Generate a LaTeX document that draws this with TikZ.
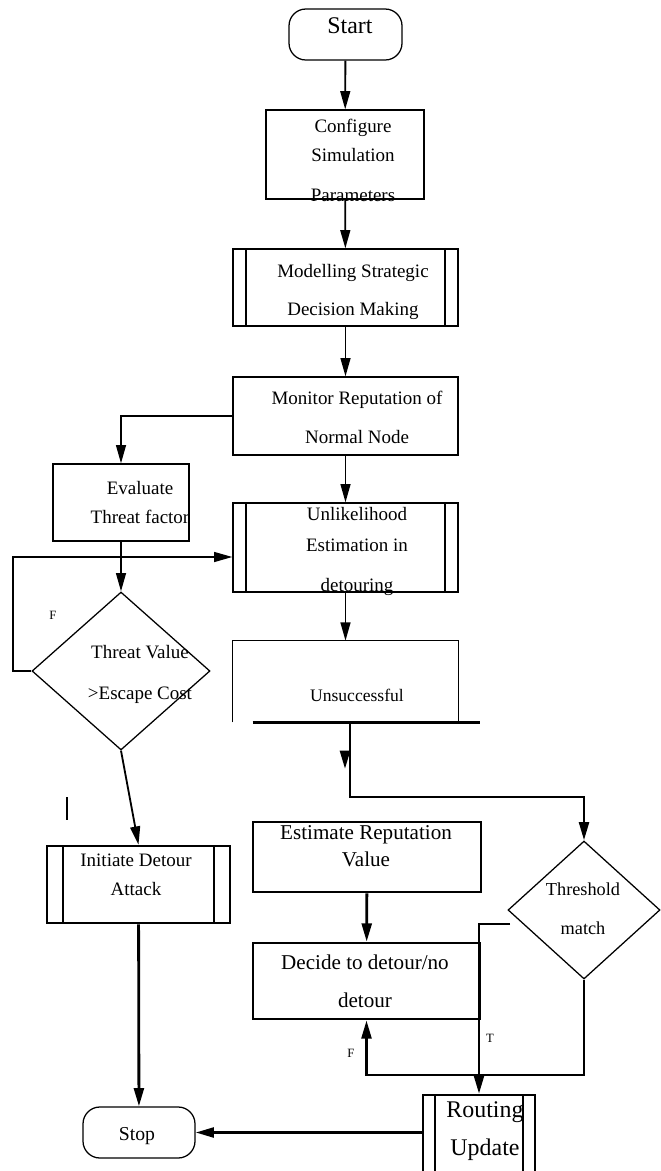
\documentclass[tikz,border=0pt]{standalone}
\usepackage{fontspec}
\setmainfont{Liberation Serif}
\usepackage{tikz}
\usetikzlibrary{arrows.meta,shapes.geometric}
\newcommand{\pxu}{0.025cm}

\begin{document}
\begin{tikzpicture}[
    x=0.025cm, y=-0.025cm,
    >={Triangle[length=13pt,width=7pt]},
    boxsize/.style 2 args={minimum width=#1*\pxu, minimum height=#2*\pxu},
    box/.style={rectangle, draw, line width=0.9pt, inner sep=0pt},
    thickbox/.style={box, line width=1.9pt},
    subproc/.style={
        path picture={
            \draw[line width=0.9pt] ([xshift=#1*\pxu]path picture bounding box.north west)
                -- ([xshift=#1*\pxu]path picture bounding box.south west);
            \draw[line width=0.9pt] ([xshift=-#1*\pxu]path picture bounding box.north east)
                -- ([xshift=-#1*\pxu]path picture bounding box.south east);
        }
    },
    terminal/.style={rectangle, rounded corners=12pt, draw, line width=0.9pt, inner sep=0pt},
    decision/.style={diamond, draw, line width=0.9pt, inner sep=0pt},
    flow/.style={->, line width=1.3pt},
    thickflow/.style={->, line width=2pt},
    txt/.style={align=center, inner sep=0pt, font=\fontsize{13.5}{16}\selectfont},
    bigtxt/.style={txt, font=\fontsize{15}{18}\selectfont},
    lbl/.style={inner sep=0pt, font=\fontsize{9}{10}\selectfont}
]
    \useasboundingbox (0,0) rectangle (660,1171);

    % Main column
    \node[terminal, boxsize={113}{51}] (start) at (345.5,34.5) {};
    \node[txt, font=\fontsize{17}{20}\selectfont] (starttxt) at (350,26) {Start};
    \node[box, boxsize={158}{89}] (config) at (345,154.5) {};
    \node[txt] (configtxt) at (353,160) {Configure\\[5pt]Simulation\\[12pt]Parameters};
    \node[box, subproc=13, boxsize={225}{77}] (model) at (345.5,287.5) {};
    \node[txt] (modeltxt) at (353,292) {Modelling Strategic\\[11pt]Decision Making};
    \node[box, boxsize={225}{78}] (monitor) at (345.5,416) {};
    \node[txt] (monitortxt) at (357,417.5) {Monitor Reputation of\\[11.7pt]Normal Node};
    \node[box, subproc=13, boxsize={225}{89}] (unlike) at (345.5,547.5) {};
    \node[txt] (unliketxt) at (357,551.5) {Unlikelihood\\[6pt]Estimation in\\[12.4pt]detouring};
    \node[inner sep=0pt, boxsize={225}{81}] (unsucc) at (345.5,681.5) {};
    \node[txt, font=\fontsize{12.5}{15}\selectfont] (unsucctxt) at (357,695) {Unsuccessful};
    \draw[line width=0.9pt] (unsucc.south west) -- (unsucc.north west) -- (unsucc.north east) -- (unsucc.south east);
    \draw[line width=2pt] ([xshift=20*\pxu]unsucc.south west) -- ([xshift=22*\pxu]unsucc.south east);

    % Attack branch
    \node[box, boxsize={136}{77}] (evaluate) at (121,502.5) {};
    \node[txt] (evaluatetxt) at (140,502.5) {Evaluate\\[4.6pt]Threat factor};
    \node[decision, boxsize={178}{158}] (threat) at (121,671) {};
    \node[txt] (threattxt) at (140,674.5) {Threat Value\\[13pt]>Escape Cost};
    \node[thickbox, subproc=16, boxsize={183}{77}] (initiate) at (138.5,884.5) {};
    \node[txt] (initiatetxt) at (136,874.5) {Initiate Detour\\[4.6pt]Attack};
    \node[terminal, boxsize={112}{51}] (stop) at (139,1132.5) {};
    \node[txt, font=\fontsize{14}{16}\selectfont] (stoptxt) at (137,1136) {Stop};

    % Reputation branch
    \node[thickbox, boxsize={228}{70}] (estimate) at (367,857) {};
    \node[bigtxt] (estimatetxt) at (366,846.5) {Estimate Reputation\\[1.2pt]Value};
    \node[thickbox, boxsize={227}{76}] (decide) at (366.5,981) {};
    \node[bigtxt] (decidetxt) at (365,981) {Decide to detour/no\\[9pt]detour};
    \node[decision, boxsize={152}{138}] (thresh) at (584,910) {};
    \node[txt, font=\fontsize{13}{16}\selectfont] (threshtxt) at (583,908.5) {Threshold\\[11.7pt]match};
    \node[thickbox, line width=1.6pt, subproc=12, boxsize={112}{80}] (routing) at (479,1135) {};
    \node[txt, font=\fontsize{17}{20}\selectfont] (routingtxt) at (485,1131) {Routing\\[7pt]Update};

    % Free ends
    \coordinate (loop) at (13,557);
    \coordinate (split) at (350,722);
    \coordinate (stubA) at (345,751);
    \coordinate (stubB) at (345,769);
    \coordinate (tleft) at (510,924);
    \coordinate (fline) at (0,1075);
    \coordinate (markA) at (67,797);
    \coordinate (markB) at (67,820);

    % Connectors
    \draw[flow] (start) -- (config);
    \draw[flow] (config) -- (model);
    \draw[flow] (model) -- (monitor);
    \draw[flow] (monitor.west) -| (evaluate.north);
    \draw[flow] (monitor) -- (unlike);
    \draw[flow] (evaluate) -- (threat);
    \draw[flow] (threat.west) -| (loop) -- (loop -| unlike.west);
    \draw[flow] (threat.south) -- (initiate.north);
    \draw[thickflow] (initiate) -- (stop);
    \draw[flow] (unlike) -- (unsucc);
    \draw[thickflow] (split) -- ++(0,75) -| (thresh.north);
    \draw[thickflow] (stubA) -- (stubB);
    \draw[thickflow] (estimate) -- (decide);
    \draw[thickflow] (tleft) -| (routing.north);
    \draw[thickflow] (thresh.south) |- (decide.south |- fline) -- (decide.south);
    \draw[thickflow] (routing.west |- stop) -- (stop.east);
    \draw[line width=2pt] (markA) -- (markB);

    % Labels
    \node[lbl] (fthreat) at (53,615) {F};
    \node[lbl] (tdecide) at (490,1038) {T};
    \node[lbl] (fdecide) at (351,1053) {F};
\end{tikzpicture}
\end{document}
